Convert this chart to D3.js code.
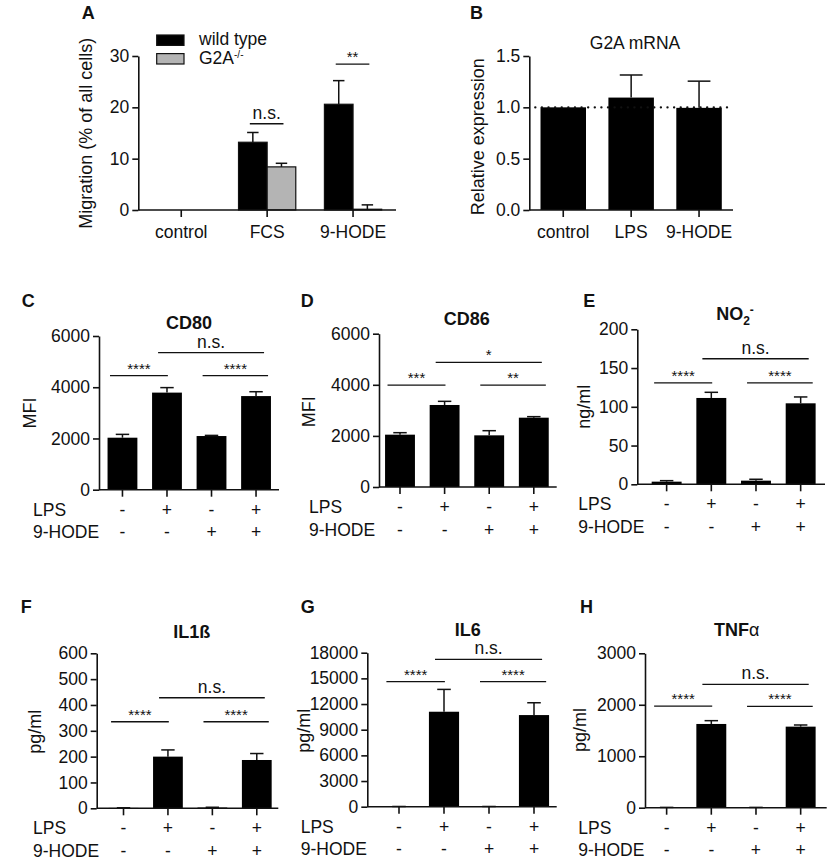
<!DOCTYPE html>
<html>
<head>
<meta charset="utf-8">
<script src="https://cdn.jsdelivr.net/npm/d3@7"></script>
<style>
  body { margin: 0; background: #fff; }
  svg { display: block; font-family: 'Liberation Sans', Arial, Helvetica, sans-serif; }
</style>
</head>
<body>
<svg id="fig" width="829" height="860"></svg>
<script>
// Figure: migration, G2A mRNA and LPS / 9-HODE stimulation panels (A–H)

// ---- Data -------------------------------------------------------------

// A: migration
const migCategories = ["control", "FCS", "9-HODE"];
const migSeries = ["wild type", "G2A"];
const migWildType = [0, 13.2, 20.6];
const migWildTypeErr = [0, 1.9, 4.6];
const migKnockout = [0, 8.4, 0.15];
const migKnockoutErr = [0, 0.7, 0.85];
const migTicks = [0, 10, 20, 30];
const migSig = [
  { cat: "FCS", label: "n.s.", level: 16.8 },
  { cat: "9-HODE", label: "**", level: 28.4 }
];

// B: G2A mRNA
const mrnaCategories = ["control", "LPS", "9-HODE"];
const mrnaValues = [1.0, 1.095, 0.995];
const mrnaErr = [0, 0.22, 0.26];
const mrnaTicks = [0, 0.5, 1.0, 1.5];
const mrnaReference = 1.0;

// C–H: four stimulation conditions
const conditions = ["none", "LPS", "9-HODE", "LPS + 9-HODE"];
const lpsRow = ["-", "+", "-", "+"];
const hodeRow = ["-", "-", "+", "+"];

const cd80Values = [2030, 3790, 2095, 3655];
const cd80Err = [130, 195, 25, 170];
const cd80Ticks = [0, 2000, 4000, 6000];
const cd80Sig = [[0, 1, "****", 4450], [1, 3, "n.s.", 5350], [2, 3, "****", 4450]];

const cd86Values = [2048, 3210, 2022, 2713];
const cd86Err = [78, 143, 182, 40];
const cd86Ticks = [0, 2000, 4000, 6000];
const cd86Sig = [[0, 1, "***", 3990], [1, 3, "*", 4880], [2, 3, "**", 3990]];

const no2Values = [3.4, 111.4, 4.7, 104.5];
const no2Err = [1.3, 7.3, 1.8, 8.2];
const no2Ticks = [0, 50, 100, 150, 200];
const no2Sig = [[0, 1, "****", 131], [1, 3, "n.s.", 162], [2, 3, "****", 131]];

const il1bValues = [1.5, 200, 3, 187];
const il1bErr = [0.5, 26, 1, 25];
const il1bTicks = [0, 100, 200, 300, 400, 500, 600];
const il1bSig = [[0, 1, "****", 335], [1, 3, "n.s.", 428], [2, 3, "****", 335]];

const il6Values = [20, 11100, 20, 10710];
const il6Err = [5, 2610, 5, 1440];
const il6Ticks = [0, 3000, 6000, 9000, 12000, 15000, 18000];
const il6Sig = [[0, 1, "****", 14610], [1, 3, "n.s.", 17220], [2, 3, "****", 14610]];

const tnfValues = [5, 1627, 5, 1575];
const tnfErr = [1, 64, 1, 32];
const tnfTicks = [0, 1000, 2000, 3000];
const tnfSig = [[0, 1, "****", 1975], [1, 3, "n.s.", 2398], [2, 3, "****", 1970]];

// ---- Style / layout ---------------------------------------------------

const ink = "#111";
const fs = 17.5;
const svg = d3.select("#fig");

// how far each comparison line reaches past the bar centres (fraction of band step)
const bracketReach = { "0-1": [-0.28, 0.02], "1-3": [-0.2, 0.18], "2-3": [-0.2, 0.27] };

function styleAxis(g) {
  g.attr("font-family", null).attr("font-size", fs);
  g.select(".domain").attr("stroke", ink).attr("stroke-width", 1.6);
  g.selectAll(".tick line").attr("stroke", ink).attr("stroke-width", 1.6);
  g.selectAll(".tick text").attr("fill", ink);
}

function drawYAxis(g, y, x0, ticks, fmt) {
  g.append("g")
    .attr("transform", `translate(${x0},0)`)
    .call(d3.axisLeft(y).tickValues(ticks).tickSize(6).tickPadding(3)
      .tickSizeOuter(0).tickFormat(fmt || d3.format("d")))
    .call(styleAxis);
}

function drawXAxis(g, x, y0, x0, x1, withLabels) {
  const ax = g.append("g")
    .attr("transform", `translate(0,${y0})`)
    .call(d3.axisBottom(x).tickSize(7).tickPadding(9).tickSizeOuter(0)
      .tickFormat(withLabels ? null : ""))
    .call(styleAxis);
  ax.select(".domain").remove();
  ax.append("line")
    .attr("x1", x0).attr("x2", x1)
    .attr("stroke", ink).attr("stroke-width", 1.6);
}

function panelLetter(letter, pos) {
  svg.append("text")
    .attr("x", pos[0]).attr("y", pos[1])
    .attr("font-size", 18).attr("font-weight", "bold").attr("fill", ink)
    .text(letter);
}

function yLabel(g, text, pos) {
  g.append("text")
    .attr("transform", `translate(${pos[0]},${pos[1]}) rotate(-90)`)
    .attr("text-anchor", "middle").attr("dy", "0.35em")
    .attr("font-size", 18).attr("fill", ink)
    .text(text);
}

function errorBars(g, xs, w, y, values, errs) {
  const data = values.map((v, i) => ({ v, e: errs[i], cx: xs(i) }));
  g.selectAll(null).data(data.filter(d => d.e > 0)).join("line")
    .attr("x1", d => d.cx).attr("x2", d => d.cx)
    .attr("y1", d => y(d.v)).attr("y2", d => y(d.v + d.e))
    .attr("stroke", ink).attr("stroke-width", 1.5);
  g.selectAll(null).data(data.filter(d => d.e > 0)).join("line")
    .attr("x1", d => d.cx - w / 2).attr("x2", d => d.cx + w / 2)
    .attr("y1", d => y(d.v + d.e)).attr("y2", d => y(d.v + d.e))
    .attr("stroke", ink).attr("stroke-width", 1.5);
}

function sigMark(g, xa, xb, yy, label) {
  const star = label.includes("*");
  g.append("line")
    .attr("x1", xa).attr("x2", xb).attr("y1", yy).attr("y2", yy)
    .attr("stroke", ink).attr("stroke-width", 1.3);
  g.append("text")
    .attr("x", (xa + xb) / 2).attr("y", yy - (star ? 2 : 5))
    .attr("text-anchor", "middle")
    .attr("font-size", star ? 15 : fs).attr("fill", ink)
    .text(label);
}

// ---- Panel A ----------------------------------------------------------
(function () {
  const g = svg.append("g");
  const axisX = 138.3, xEnd = 396, y0 = 210, yTop = 56;
  const x0 = d3.scaleBand().domain(migCategories).range([axisX, xEnd]);
  const x1 = d3.scaleBand().domain(migSeries).range([0, x0.bandwidth()])
    .paddingInner(0).paddingOuter(0.5);
  const y = d3.scaleLinear().domain([0, d3.max(migTicks)]).range([y0, yTop]);

  const series = [
    { key: "wild type", vals: migWildType, errs: migWildTypeErr, fill: "#000" },
    { key: "G2A", vals: migKnockout, errs: migKnockoutErr, fill: "#b4b4b4" }
  ];

  series.forEach(s => {
    const cx = i => x0(migCategories[i]) + x1(s.key) + x1.bandwidth() / 2;
    const data = s.vals.map((v, i) => ({ v, i })).filter(d => d.v > 0);
    g.selectAll(null).data(data).join("rect")
      .attr("x", d => x0(migCategories[d.i]) + x1(s.key))
      .attr("width", x1.bandwidth())
      .attr("y", d => y(d.v))
      .attr("height", d => y(0) - y(d.v))
      .attr("fill", s.fill)
      .attr("stroke", ink).attr("stroke-width", 1.2);
    errorBars(g, cx, x1.bandwidth() * 0.4, y, s.vals, s.errs);
  });

  drawYAxis(g, y, axisX, migTicks);
  drawXAxis(g, x0, y0, axisX, xEnd, true);

  migSig.forEach(s => {
    const xa = x0(s.cat) + x1("wild type") + x1.bandwidth() / 2 - 3;
    const xb = x0(s.cat) + x1("G2A") + x1.bandwidth() / 2 + 2;
    sigMark(g, xa, xb, y(s.level), s.label);
  });

  // legend
  const lg = g.append("g").attr("transform", "translate(156.7,35)");
  series.forEach((s, i) => {
    lg.append("rect")
      .attr("x", 0).attr("y", i * 18.6)
      .attr("width", 27.3).attr("height", 10.4)
      .attr("fill", s.fill).attr("stroke", ink).attr("stroke-width", 1.2);
  });
  lg.append("text").attr("x", 42.3).attr("y", 9.8)
    .attr("font-size", 17.5).attr("fill", ink).text("wild type");
  const kt = lg.append("text").attr("x", 42.3).attr("y", 28.8)
    .attr("font-size", 17.5).attr("fill", ink).text("G2A");
  kt.append("tspan").attr("font-size", 10).attr("dy", -5.5).text("-/-");

  yLabel(g, "Migration (% of all cells)", [86, 133.3]);
  panelLetter("A", [81.7, 19]);
})();

// ---- Panel B ----------------------------------------------------------
(function () {
  const g = svg.append("g");
  const axisX = 529.3, xEnd = 733, y0 = 210, yTop = 56;
  const x = d3.scaleBand().domain(mrnaCategories).range([axisX, xEnd])
    .paddingInner(0.33).paddingOuter(0.165);
  const y = d3.scaleLinear().domain([0, d3.max(mrnaTicks)]).range([y0, yTop]);

  g.selectAll(null).data(mrnaValues).join("rect")
    .attr("x", (d, i) => x(mrnaCategories[i]))
    .attr("width", x.bandwidth())
    .attr("y", d => y(d))
    .attr("height", d => y(0) - y(d))
    .attr("fill", "#000");
  errorBars(g, i => x(mrnaCategories[i]) + x.bandwidth() / 2, x.bandwidth() * 0.5,
    y, mrnaValues, mrnaErr);

  g.append("line")
    .attr("x1", axisX + 6).attr("x2", xEnd)
    .attr("y1", y(mrnaReference)).attr("y2", y(mrnaReference))
    .attr("stroke", ink).attr("stroke-width", 2.4)
    .attr("stroke-linecap", "round").attr("stroke-dasharray", "0.01 6.6");

  drawYAxis(g, y, axisX, mrnaTicks, d3.format(".1f"));
  drawXAxis(g, x, y0, axisX, xEnd, true);

  g.append("text").attr("x", 635).attr("y", 49)
    .attr("text-anchor", "middle").attr("font-size", fs).attr("fill", ink)
    .text("G2A mRNA");
  yLabel(g, "Relative expression", [477.3, 136.7]);
  panelLetter("B", [470, 19]);
})();

// ---- Panels C–H -------------------------------------------------------
function drawConditionPanel(p) {
  const g = svg.append("g");
  const x = d3.scaleBand().domain(conditions).range(p.band)
    .paddingInner(0.33).paddingOuter(0.165);
  const y = d3.scaleLinear().domain([0, d3.max(p.ticks)]).range([p.y0, p.yTop]);
  const cx = i => x(conditions[i]) + x.bandwidth() / 2;

  g.selectAll(null).data(p.values).join("rect")
    .attr("x", (d, i) => x(conditions[i]))
    .attr("width", x.bandwidth())
    .attr("y", d => y(d))
    .attr("height", d => y(0) - y(d))
    .attr("fill", "#000");
  errorBars(g, cx, x.bandwidth() * 0.45, y, p.values, p.errs);

  drawYAxis(g, y, p.axisX, p.ticks);
  drawXAxis(g, x, p.y0, p.axisX, p.xEnd, false);

  const step = x.step();
  p.sig.forEach(([a, b, label, level]) => {
    const r = bracketReach[a + "-" + b];
    sigMark(g, cx(a) + r[0] * step, cx(b) + r[1] * step, y(level), label);
  });

  // treatment rows
  [["LPS", lpsRow, 26], ["9-HODE", hodeRow, 48.5]].forEach(([name, row, dy]) => {
    g.append("text").attr("x", p.rowX).attr("y", p.y0 + dy)
      .attr("font-size", fs).attr("fill", ink).text(name);
    g.selectAll(null).data(row).join("text")
      .attr("x", (d, i) => cx(i)).attr("y", p.y0 + dy)
      .attr("text-anchor", "middle").attr("font-size", fs).attr("fill", ink)
      .text(d => d);
  });

  const t = g.append("text").attr("x", p.titlePos[0]).attr("y", p.titlePos[1])
    .attr("text-anchor", "middle").attr("font-size", 18)
    .attr("font-weight", "bold").attr("fill", ink);
  p.title(t);

  yLabel(g, p.yLabel, p.yLabelPos);
  panelLetter(p.letter, p.letterPos);
}

drawConditionPanel({
  letter: "C", letterPos: [21.7, 306.5],
  title: t => t.text("CD80"), titlePos: [189, 328.5],
  values: cd80Values, errs: cd80Err, ticks: cd80Ticks, sig: cd80Sig,
  yLabel: "MFI", yLabelPos: [30, 413],
  axisX: 99, xEnd: 279, band: [100.2, 278.3], y0: 489.7, yTop: 336, rowX: 33
});

drawConditionPanel({
  letter: "D", letterPos: [300.7, 306.5],
  title: t => t.text("CD86"), titlePos: [466.7, 324.5],
  values: cd86Values, errs: cd86Err, ticks: cd86Ticks, sig: cd86Sig,
  yLabel: "MFI", yLabelPos: [308.3, 411.7],
  axisX: 379, xEnd: 556.7, band: [377.7, 556.1], y0: 487, yTop: 333.7, rowX: 309
});

drawConditionPanel({
  letter: "E", letterPos: [583.3, 306.5],
  title: t => {
    t.text("NO");
    t.append("tspan").attr("font-size", 12).attr("dy", 5).text("2");
    t.append("tspan").attr("font-size", 12).attr("dy", -11.5).text("-");
  },
  titlePos: [735, 320],
  values: no2Values, errs: no2Err, ticks: no2Ticks, sig: no2Sig,
  yLabel: "ng/ml", yLabelPos: [583.3, 406.7],
  axisX: 637.3, xEnd: 825, band: [644.3, 823], y0: 484.3, yTop: 329.3, rowX: 578.3
});

drawConditionPanel({
  letter: "F", letterPos: [20.7, 613],
  title: t => t.text("IL1ß"), titlePos: [191.7, 638],
  values: il1bValues, errs: il1bErr, ticks: il1bTicks, sig: il1bSig,
  yLabel: "pg/ml", yLabelPos: [35, 731.7],
  axisX: 96.7, xEnd: 278.3, band: [101.3, 279], y0: 808.3, yTop: 653.3, rowX: 33
});

drawConditionPanel({
  letter: "G", letterPos: [300.7, 613],
  title: t => t.text("IL6"), titlePos: [467.7, 635.8],
  values: il6Values, errs: il6Err, ticks: il6Ticks, sig: il6Sig,
  yLabel: "pg/ml", yLabelPos: [303.3, 730.8],
  axisX: 367.3, xEnd: 556.7, band: [376.5, 556.5], y0: 806.7, yTop: 652.7, rowX: 300.7
});

drawConditionPanel({
  letter: "H", letterPos: [580, 613],
  title: t => {
    t.text("TNF");
    t.append("tspan").attr("font-weight", "normal").text("α");
  },
  titlePos: [736.7, 636],
  values: tnfValues, errs: tnfErr, ticks: tnfTicks, sig: tnfSig,
  yLabel: "pg/ml", yLabelPos: [579.3, 730],
  axisX: 645, xEnd: 826.7, band: [644.3, 823], y0: 807.7, yTop: 653.3, rowX: 578.3
});
</script>
</body>
</html>
